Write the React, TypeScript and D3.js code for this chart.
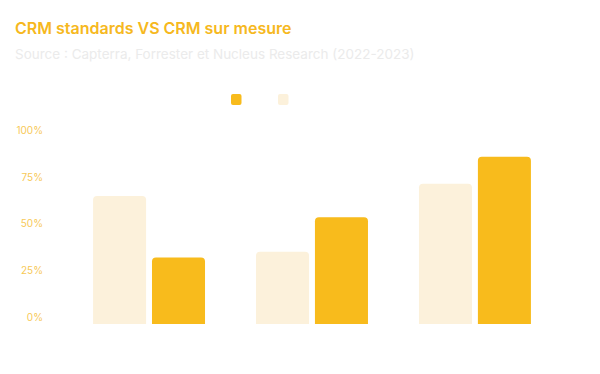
import React, { useEffect, useRef } from 'react';
import * as d3 from 'd3';

// Chart data
const categories = ['Critère 1', 'Critère 2', 'Critère 3'];
const seriesNames = ['CRM standards', 'CRM sur mesure'];
const standardValues = [0.65, 0.35, 0.715];
const customValues = [0.32, 0.535, 0.86];
const yTicks = [0, 0.25, 0.5, 0.75, 1];

const colors = ['#FCF1DB', '#F8BB1C'];

const App = () => {
  const ref = useRef<SVGSVGElement>(null);

  useEffect(() => {
    if (!ref.current) return;
    const svg = d3.select(ref.current);
    svg.selectAll('*').remove();

    // Title + subtitle
    svg.append('text')
      .attr('x', 15).attr('y', 34)
      .attr('font-family', 'Inter, sans-serif')
      .attr('font-size', 16).attr('font-weight', 600)
      .attr('fill', '#F6B820')
      .text('CRM standards VS CRM sur mesure');

    svg.append('text')
      .attr('x', 15).attr('y', 59)
      .attr('font-family', 'Inter, sans-serif')
      .attr('font-size', 13.5)
      .attr('fill', '#EBEBEB')
      .text('Source : Capterra, Forrester et Nucleus Research (2022-2023)');

    // Legend (squares only)
    const legendOrder = [1, 0];
    legendOrder.forEach((s, i) => {
      svg.append('rect')
        .attr('x', 231 + i * 47).attr('y', 94)
        .attr('width', 10.5).attr('height', 11)
        .attr('rx', 2)
        .attr('fill', colors[s]);
    });

    // Scales
    const y = d3.scaleLinear().domain([0, 1]).range([317, 130.7]);
    const x0 = d3.scaleBand<string>()
      .domain(categories)
      .range([67, 557])
      .paddingInner(0.313)
      .paddingOuter(0.16);
    const x1 = d3.scaleBand<string>()
      .domain(seriesNames)
      .range([0, x0.bandwidth()])
      .paddingInner(0.1);

    // Y tick labels
    svg.append('g')
      .selectAll('text')
      .data(yTicks)
      .join('text')
      .attr('x', 43)
      .attr('y', d => y(d))
      .attr('dy', '0.35em')
      .attr('text-anchor', 'end')
      .attr('font-family', 'Inter, sans-serif')
      .attr('font-size', 10)
      .attr('fill', '#F7C957')
      .text(d => d3.format('.0%')(d));

    // Bars with rounded top corners
    const base = y(0) + 7;
    const r = 4;
    const barPath = (bx: number, bw: number, top: number) =>
      `M${bx},${base}V${top + r}Q${bx},${top} ${bx + r},${top}H${bx + bw - r}Q${bx + bw},${top} ${bx + bw},${top + r}V${base}Z`;

    const data = categories.flatMap((c, i) => [
      { c, s: seriesNames[0], v: standardValues[i], color: colors[0] },
      { c, s: seriesNames[1], v: customValues[i], color: colors[1] },
    ]);

    svg.append('g')
      .selectAll('path')
      .data(data)
      .join('path')
      .attr('d', d => barPath((x0(d.c) ?? 0) + (x1(d.s) ?? 0), x1.bandwidth(), y(d.v)))
      .attr('fill', d => d.color);
  }, []);

  return (
    <svg ref={ref} width={600} height={374} style={{ position: 'absolute', left: 0, top: 0 }} />
  );
};

export default App;
